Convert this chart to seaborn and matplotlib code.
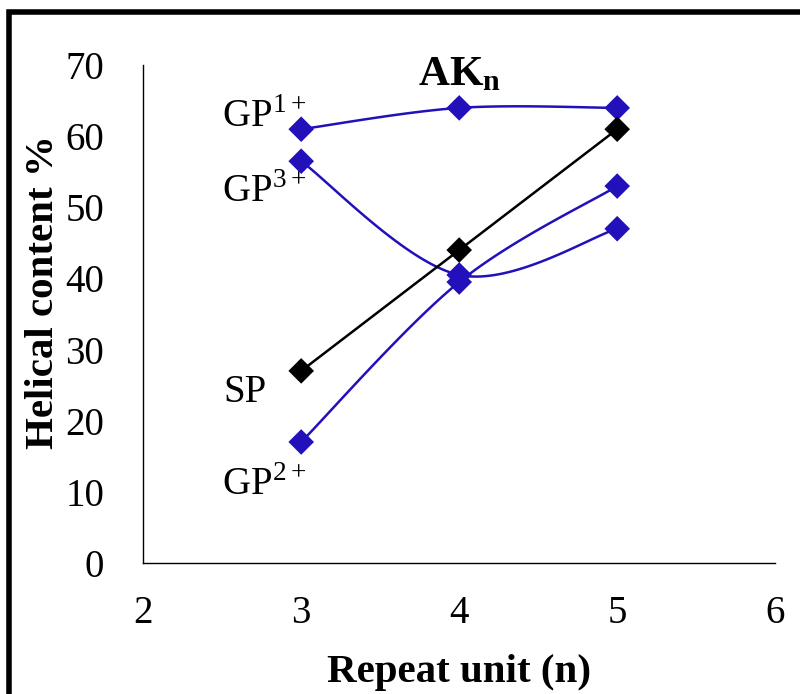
import numpy as np
import pandas as pd
import matplotlib
matplotlib.use("Agg")
import matplotlib.pyplot as plt
import seaborn as sns
from matplotlib.patches import Rectangle

# ---- data ----
repeat_unit = [3, 4, 5]
gp1 = [61, 64, 64]
gp3 = [56.5, 40.5, 47]
gp2 = [17, 39.5, 53]
sp = [27, 44, 61]
series_names = ["GP1", "GP3", "GP2", "SP"]
series_values = [gp1, gp3, gp2, sp]
series_smooth = [True, True, True, False]
x_ticks = [2, 3, 4, 5, 6]
y_ticks = [0, 10, 20, 30, 40, 50, 60, 70]

BLUE = "#2211bb"
colors = {"GP1": BLUE, "GP3": BLUE, "GP2": BLUE, "SP": "#000000"}

sns.set_theme(style="white")
plt.rcParams["font.family"] = ["Liberation Serif", "DejaVu Serif"]
plt.rcParams["mathtext.fontset"] = "custom"
plt.rcParams["mathtext.rm"] = "Liberation Serif"
plt.rcParams["mathtext.bf"] = "Liberation Serif:bold"
plt.rcParams["text.color"] = "black"
plt.rcParams["axes.labelcolor"] = "black"
plt.rcParams["xtick.color"] = "black"
plt.rcParams["ytick.color"] = "black"


def catmull(xs, ys, n=40):
    px = np.array([xs[0]] + list(xs) + [xs[-1]], float)
    py = np.array([ys[0]] + list(ys) + [ys[-1]], float)
    ox, oy = [], []
    t = np.linspace(0, 1, n)
    for i in range(1, len(px) - 2):
        for arr, out in ((px, ox), (py, oy)):
            p0, p1, p2, p3 = arr[i - 1], arr[i], arr[i + 1], arr[i + 2]
            out.extend(0.5 * ((2 * p1) + (-p0 + p2) * t
                              + (2 * p0 - 5 * p1 + 4 * p2 - p3) * t ** 2
                              + (-p0 + 3 * p1 - 3 * p2 + p3) * t ** 3))
    return ox, oy


line_rows = []
pt_rows = []
for name, vals, smooth in zip(series_names, series_values, series_smooth):
    if smooth:
        cx, cy = catmull(repeat_unit, vals)
    else:
        cx, cy = list(repeat_unit), list(vals)
    for i, (a, b) in enumerate(zip(cx, cy)):
        line_rows.append({"series": name, "x": a, "y": b, "order": i})
    for a, b in zip(repeat_unit, vals):
        pt_rows.append({"series": name, "x": a, "y": b})
line_df = pd.DataFrame(line_rows)
pt_df = pd.DataFrame(pt_rows)

fig = plt.figure(figsize=(8.0, 6.94), dpi=100)
ax = fig.add_axes([0.179, 0.189, 0.790, 0.717])

sns.lineplot(data=line_df, x="x", y="y", hue="series", palette=colors,
             sort=False, estimator=None, units="series", linewidth=1.8,
             legend=False, ax=ax)
sns.scatterplot(data=pt_df, x="x", y="y", hue="series", palette=colors,
                marker="D", s=170, edgecolor="none", legend=False, ax=ax,
                zorder=5)

ax.set_xlim(2, 6)
ax.set_ylim(0, 70)
ax.set_xticks(x_ticks)
ax.set_yticks(y_ticks)
for s in ["top", "right"]:
    ax.spines[s].set_visible(False)
for s in ["left", "bottom"]:
    ax.spines[s].set_color("black")
    ax.spines[s].set_linewidth(1.0)
ax.tick_params(axis="both", direction="out", length=10, width=1.0,
               colors="black", labelsize=28)
ax.tick_params(axis="x", pad=13)
ax.tick_params(axis="y", pad=18)
ax.set_xlabel("Repeat unit (n)", fontsize=29.5, fontweight="bold")
ax.set_ylabel("Helical content %", fontsize=29.5, fontweight="bold")
ax.xaxis.set_label_coords(0.5, -0.183)
ax.yaxis.set_label_coords(-0.128, 0.544)
ax.grid(False)

ax.text(4.0, 68.6, r"$\mathbf{AK_n}$", fontsize=31, ha="center", va="center")
ax.text(2.50, 61.3, r"GP$^{1+}$", fontsize=28, ha="left", va="baseline")
ax.text(2.50, 50.8, r"GP$^{3+}$", fontsize=28, ha="left", va="baseline")
ax.text(2.505, 22.6, "SP", fontsize=28, ha="left", va="baseline")
ax.text(2.50, 9.6, r"GP$^{2+}$", fontsize=28, ha="left", va="baseline")

fig.patches.append(Rectangle((0.0113, -0.1), 1.2, 0.1 + 0.9827, transform=fig.transFigure,
                             fill=False, edgecolor="black", linewidth=4.0))

fig.savefig("out.png", dpi=100, facecolor="white")
